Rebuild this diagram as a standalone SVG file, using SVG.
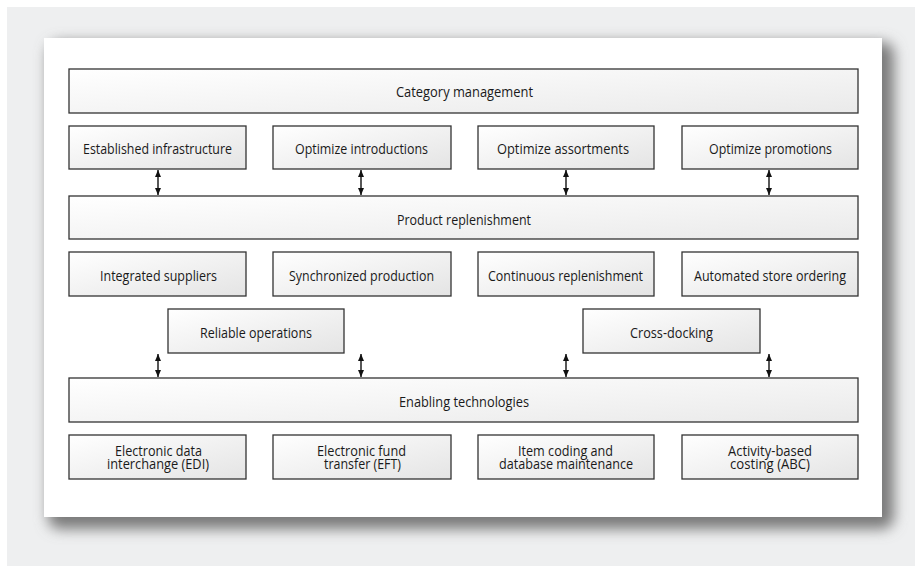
<svg xmlns="http://www.w3.org/2000/svg" width="915" height="566" viewBox="0 0 915 566">
  <defs>
    <linearGradient id="boxfill" x1="0" y1="0" x2="1" y2="1">
      <stop offset="0" stop-color="#ffffff"/>
      <stop offset="1" stop-color="#e4e4e4"/>
    </linearGradient>
    <linearGradient id="barfill" x1="0" y1="0" x2="1" y2="1">
      <stop offset="0" stop-color="#ffffff"/>
      <stop offset="1" stop-color="#eaeaea"/>
    </linearGradient>
    <filter id="shadow" x="-10%" y="-10%" width="120%" height="130%">
      <feGaussianBlur stdDeviation="7"/>
    </filter>
    <marker id="ah" markerUnits="userSpaceOnUse" markerWidth="8" markerHeight="8" refX="7" refY="3" orient="auto-start-reverse">
      <path d="M0,0 L7,3 L0,6 z" fill="#111"/>
    </marker>
    <style>
      .box { fill: url(#boxfill); stroke: #333; stroke-width: 1.3; }
      .bar { fill: url(#barfill); stroke: #333; stroke-width: 1.3; }
      .lbl { font-family: "Open Sans", "Noto Sans", sans-serif; font-size: 15px; fill: #1a1a1a; text-anchor: middle; }
      .two { font-size: 14.5px; }
      .conn line { stroke: #111; stroke-width: 1.4; marker-start: url(#ah); marker-end: url(#ah); }
    </style>
  </defs>

  <rect x="0" y="0" width="915" height="566" fill="#ffffff"/>
  <rect x="7" y="7" width="908" height="559" fill="#eeeff0"/>
  <rect x="48" y="42" width="846" height="487" rx="12" fill="#7a7a7a" filter="url(#shadow)"/>
  <rect x="44" y="38" width="838" height="479" fill="#ffffff"/>

  <g id="category-management">
    <rect class="bar" x="69" y="69" width="789" height="44"/>
    <text class="lbl" x="464.5" y="97" textLength="137" lengthAdjust="spacingAndGlyphs">Category management</text>
  </g>
  <g id="established-infrastructure">
    <rect class="box" x="69" y="126" width="177" height="43"/>
    <text class="lbl" x="157.5" y="154" textLength="149" lengthAdjust="spacingAndGlyphs">Established infrastructure</text>
  </g>
  <g id="optimize-introductions">
    <rect class="box" x="273" y="126" width="178" height="43"/>
    <text class="lbl" x="361.5" y="154" textLength="133" lengthAdjust="spacingAndGlyphs">Optimize introductions</text>
  </g>
  <g id="optimize-assortments">
    <rect class="box" x="478" y="126" width="176" height="43"/>
    <text class="lbl" x="563" y="154" textLength="132" lengthAdjust="spacingAndGlyphs">Optimize assortments</text>
  </g>
  <g id="optimize-promotions">
    <rect class="box" x="682" y="126" width="176" height="43"/>
    <text class="lbl" x="770.5" y="154" textLength="123" lengthAdjust="spacingAndGlyphs">Optimize promotions</text>
  </g>

  <g id="product-replenishment">
    <rect class="bar" x="69" y="196" width="789" height="43"/>
    <text class="lbl" x="464" y="224.5" textLength="134" lengthAdjust="spacingAndGlyphs">Product replenishment</text>
  </g>
  <g id="integrated-suppliers">
    <rect class="box" x="69" y="252" width="177" height="44"/>
    <text class="lbl" x="158.5" y="280.5" textLength="117" lengthAdjust="spacingAndGlyphs">Integrated suppliers</text>
  </g>
  <g id="synchronized-production">
    <rect class="box" x="273" y="252" width="178" height="44"/>
    <text class="lbl" x="361.5" y="280.5" textLength="145" lengthAdjust="spacingAndGlyphs">Synchronized production</text>
  </g>
  <g id="continuous-replenishment">
    <rect class="box" x="478" y="252" width="176" height="44"/>
    <text class="lbl" x="565.5" y="280.5" textLength="155" lengthAdjust="spacingAndGlyphs">Continuous replenishment</text>
  </g>
  <g id="automated-store-ordering">
    <rect class="box" x="682" y="252" width="176" height="44"/>
    <text class="lbl" x="770" y="280.5" textLength="152" lengthAdjust="spacingAndGlyphs">Automated store ordering</text>
  </g>
  <g id="reliable-operations">
    <rect class="box" x="168" y="309" width="176" height="44"/>
    <text class="lbl" x="256" y="337.5" textLength="112" lengthAdjust="spacingAndGlyphs">Reliable operations</text>
  </g>
  <g id="cross-docking">
    <rect class="box" x="583" y="309" width="177" height="44"/>
    <text class="lbl" x="671.5" y="337.5" textLength="83" lengthAdjust="spacingAndGlyphs">Cross-docking</text>
  </g>

  <g id="enabling-technologies">
    <rect class="bar" x="69" y="378" width="789" height="44"/>
    <text class="lbl" x="464" y="406.5" textLength="130" lengthAdjust="spacingAndGlyphs">Enabling technologies</text>
  </g>
  <g id="edi">
    <rect class="box" x="69" y="435" width="177" height="44"/>
    <text class="lbl two" x="158.5" y="455.5" textLength="87" lengthAdjust="spacingAndGlyphs">Electronic data</text>
    <text class="lbl two" x="158" y="469" textLength="102" lengthAdjust="spacingAndGlyphs">interchange (EDI)</text>
  </g>
  <g id="eft">
    <rect class="box" x="273" y="435" width="178" height="44"/>
    <text class="lbl two" x="361.5" y="455.5" textLength="89" lengthAdjust="spacingAndGlyphs">Electronic fund</text>
    <text class="lbl two" x="362.5" y="469" textLength="77" lengthAdjust="spacingAndGlyphs">transfer (EFT)</text>
  </g>
  <g id="item-coding">
    <rect class="box" x="478" y="435" width="176" height="44"/>
    <text class="lbl two" x="565.5" y="455.5" textLength="95" lengthAdjust="spacingAndGlyphs">Item coding and</text>
    <text class="lbl two" x="566" y="469" textLength="134" lengthAdjust="spacingAndGlyphs">database maintenance</text>
  </g>
  <g id="abc">
    <rect class="box" x="682" y="435" width="176" height="44"/>
    <text class="lbl two" x="770" y="455.5" textLength="84" lengthAdjust="spacingAndGlyphs">Activity-based</text>
    <text class="lbl two" x="770" y="469" textLength="80" lengthAdjust="spacingAndGlyphs">costing (ABC)</text>
  </g>

  <g id="connectors" class="conn">
    <line x1="158" y1="170" x2="158" y2="195"/>
    <line x1="361" y1="170" x2="361" y2="195"/>
    <line x1="566" y1="170" x2="566" y2="195"/>
    <line x1="769" y1="170" x2="769" y2="195"/>
    <line x1="158" y1="354" x2="158" y2="377"/>
    <line x1="361" y1="354" x2="361" y2="377"/>
    <line x1="566" y1="354" x2="566" y2="377"/>
    <line x1="769" y1="354" x2="769" y2="377"/>
  </g>
</svg>
